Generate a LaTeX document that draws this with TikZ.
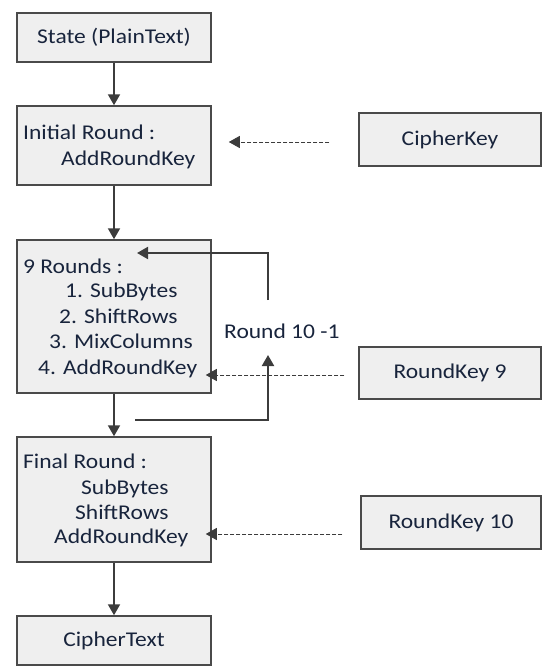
\documentclass[tikz,border=0pt]{standalone}
\usepackage{fontspec}
\setmainfont{Carlito}[FakeStretch=1.12]
\usetikzlibrary{arrows.meta}
\definecolor{boxfill}{HTML}{EFEFEF}
\definecolor{boxline}{HTML}{4A4A4A}
\definecolor{ink}{HTML}{18243C}
\definecolor{arrowc}{HTML}{3C3C3C}
\begin{document}
\begin{tikzpicture}[x=1pt,y=-1pt,
  stage/.style={draw=boxline, fill=boxfill, line width=1.5pt, rectangle, inner sep=0pt,
    text=ink, font=\fontsize{21}{25}\selectfont},
  lbl/.style={text=ink, font=\fontsize{21}{25}\selectfont, inner sep=0pt, anchor=mid west,
    yshift=-4pt},
  tip/.style={-{Triangle[length=11pt,width=12pt]}},
  arr/.style={draw=arrowc, line width=2pt, tip},
  darr/.style={draw=arrowc, line width=1pt, dash pattern=on 4pt off 2pt, tip}]
\useasboundingbox (0,0) rectangle (542,669);

% main column
\node[stage, minimum width=194pt, minimum height=49pt]  (state)  at (114,37.5)  {State (PlainText)};
\node[stage, minimum width=194pt, minimum height=79pt]  (init)   at (114,145.5) {};
\node[stage, minimum width=194pt, minimum height=153pt] (nine)   at (114,316.5) {};
\node[stage, minimum width=194pt, minimum height=125pt] (final)  at (114,499.5) {};
\node[stage, minimum width=194pt, minimum height=49pt]  (cipher) at (114,640.5) {CipherText};

% key column
\node[stage, minimum width=182pt, minimum height=53pt] (ck)   at (450,139.5) {CipherKey};
\node[stage, minimum width=182pt, minimum height=52pt] (rk9)  at (450,373)   {RoundKey 9};
\node[stage, minimum width=180pt, minimum height=53pt] (rk10) at (451,522.5) {RoundKey 10};

% box contents
\node[lbl] (initA) at (23,133) {Initial Round :};
\node[lbl] (initB) at (61,159) {AddRoundKey};

\node[lbl] (nineA) at (23,267) {9 Rounds :};
\node[lbl] (nineB) at (65,291) {1. SubBytes};
\node[lbl] (nineC) at (59,317) {2. ShiftRows};
\node[lbl] (nineD) at (49,342) {3. MixColumns};
\node[lbl] (nineE) at (38,368) {4. AddRoundKey};

\node[lbl] (finA) at (23,462) {Final Round :};
\node[lbl] (finB) at (81,488) {SubBytes};
\node[lbl] (finC) at (75,513) {ShiftRows};
\node[lbl] (finD) at (54,537) {AddRoundKey};

\node[lbl] (rnd) at (224,332) {Round 10 -1};

% main flow
\draw[arr] (state) -- (init);
\draw[arr] (init) -- (nine);
\draw[arr] (nine) -- (final);
\draw[arr] (final) -- (cipher);

% round loop
\coordinate (loopUp)   at (268,300);
\coordinate (loopTip)  at (137,253);
\coordinate (loopLow)  at (135,420);
\coordinate (loopHead) at (268,355);
\draw[arr] (loopUp) |- (loopTip);
\draw[arr] (loopLow) -| (loopHead);

% key inputs
\coordinate (ckOut)   at ([yshift=-2.5pt]ck.west);
\coordinate (rk9Out)  at ([yshift=-2pt]rk9.west);
\coordinate (rk10Out) at ([yshift=-11.5pt]rk10.west);
\draw[darr, shorten <=29pt, shorten >=17pt] (ckOut) -- (ckOut -| init.east);
\draw[darr, shorten <=14pt, shorten >=-6pt] (rk9Out) -- (rk9Out -| nine.east);
\draw[darr, shorten <=18pt, shorten >=-6pt] (rk10Out) -- (rk10Out -| final.east);
\end{tikzpicture}
\end{document}
